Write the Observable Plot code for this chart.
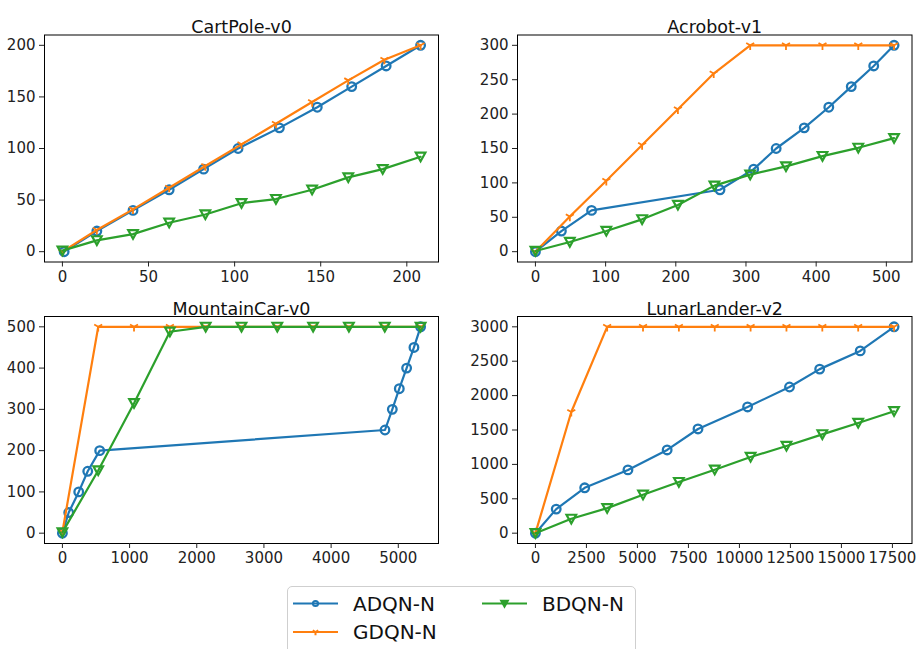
<!DOCTYPE html>
<html><head><meta charset="utf-8">
<script src="https://cdn.jsdelivr.net/npm/d3@7"></script>
<script src="https://cdn.jsdelivr.net/npm/@observablehq/plot@0.6"></script>
<style>
body{margin:0;background:#fff;width:918px;height:649px;overflow:hidden;position:relative;font-family:"DejaVu Sans",sans-serif;}
.panel{position:absolute;}
.panel svg{overflow:visible;display:block;}
#legend{position:absolute;left:287px;top:586px;width:349px;height:90px;border:1px solid #cfcfcf;border-radius:5px;box-sizing:border-box;background:#fff;}
#legendsvg{position:absolute;left:0;top:0;overflow:visible;}
</style></head><body>
<div id="p1" class="panel" style="left:0;top:0"></div>
<div id="p2" class="panel" style="left:459px;top:0"></div>
<div id="p3" class="panel" style="left:0;top:290px"></div>
<div id="p4" class="panel" style="left:459px;top:290px"></div>
<div id="legend"></div>
<svg id="legendsvg" width="918" height="649"></svg>
<script>
// ---------- data ----------
const methods = ["ADQN-N", "GDQN-N", "BDQN-N"];
const colors = ["#1f77b4", "#ff7f0e", "#2ca02c"];

const titles = ["CartPole-v0", "Acrobot-v1", "MountainCar-v0", "LunarLander-v2"];

// CartPole-v0
const cartAdqnX = [1, 20, 41, 62, 82, 102, 126, 148, 168, 188, 208];
const cartAdqnY = [0, 20, 40, 60, 80, 100, 120, 140, 160, 180, 200];
const cartGdqnX = [0, 20, 41, 62, 83, 104, 124, 145, 166, 187, 208];
const cartGdqnY = [0, 21, 41, 62, 83, 104, 124, 145, 166, 186, 200];
const cartBdqnX = [0, 20, 41, 62, 83, 104, 124, 145, 166, 186, 208];
const cartBdqnY = [1, 11, 17, 28, 36, 47, 51, 60, 72, 80, 92];

// Acrobot-v1
const acroAdqnX = [0, 37, 80, 263, 311, 343, 383, 418, 450, 482, 511];
const acroAdqnY = [0, 30, 60, 90, 120, 150, 180, 210, 240, 270, 300];
const acroGdqnX = [0, 49, 101, 152, 203, 254, 306, 357, 409, 460, 511];
const acroGdqnY = [0, 51, 103, 155, 207, 259, 300, 300, 300, 300, 300];
const acroBdqnX = [0, 49, 101, 152, 203, 255, 306, 357, 409, 460, 511];
const acroBdqnY = [1, 14, 30, 47, 68, 96, 112, 124, 139, 151, 165];

// MountainCar-v0
const mcAdqnX = [0, 94, 243, 377, 555, 4802, 4911, 5015, 5124, 5233, 5332];
const mcAdqnY = [0, 50, 100, 150, 200, 250, 300, 350, 400, 450, 500];
const mcGdqnX = [0, 533, 1066, 1600, 2133, 2666, 3199, 3732, 4265, 4799, 5332];
const mcGdqnY = [3, 500, 500, 500, 500, 500, 500, 500, 500, 500, 500];
const mcBdqnX = [0, 533, 1066, 1600, 2133, 2666, 3199, 3732, 4265, 4799, 5332];
const mcBdqnY = [2, 152, 315, 488, 500, 500, 500, 500, 500, 500, 500];

// LunarLander-v2
const llAdqnX = [0, 1019, 2415, 4535, 6457, 7969, 10400, 12455, 13934, 15922, 17581];
const llAdqnY = [0, 350, 660, 920, 1210, 1515, 1835, 2125, 2385, 2650, 3000];
const llGdqnX = [0, 1758, 3516, 5274, 7032, 8790, 10548, 12306, 14064, 15822, 17581];
const llGdqnY = [0, 1762, 3000, 3000, 3000, 3000, 3000, 3000, 3000, 3000, 3000];
const llBdqnX = [0, 1758, 3516, 5274, 7032, 8790, 10548, 12306, 14064, 15822, 17581];
const llBdqnY = [0, 209, 364, 558, 743, 922, 1107, 1267, 1437, 1602, 1772];

// tick values
const cartXTicks = [0, 50, 100, 150, 200];
const cartYTicks = [0, 50, 100, 150, 200];
const acroXTicks = [0, 100, 200, 300, 400, 500];
const acroYTicks = [0, 50, 100, 150, 200, 250, 300];
const mcXTicks = [0, 1000, 2000, 3000, 4000, 5000];
const mcYTicks = [0, 100, 200, 300, 400, 500];
const llXTicks = [0, 2500, 5000, 7500, 10000, 12500, 15000, 17500];
const llYTicks = [0, 500, 1000, 1500, 2000, 2500, 3000];

// ---------- symbols ----------
const triDown = {draw(ctx, size) {
  const r = Math.sqrt(size / Math.PI);
  ctx.moveTo(-r, -r * 0.85); ctx.lineTo(r, -r * 0.85); ctx.lineTo(0, r * 0.95); ctx.closePath();
}};
const triY = {draw(ctx, size) {
  const r = Math.sqrt(size / Math.PI);
  ctx.moveTo(0, 0); ctx.lineTo(0, r);
  ctx.moveTo(0, 0); ctx.lineTo(-0.866 * r, -0.5 * r);
  ctx.moveTo(0, 0); ctx.lineTo(0.866 * r, -0.5 * r);
}};
const markerStyles = [
  {symbol: "circle", r: 4.3, sw: 2.3},
  {symbol: triY, r: 4.6, sw: 1.8},
  {symbol: triDown, r: 4.8, sw: 2.2}
];

function pad(vals) {
  const lo = d3.min(vals), hi = d3.max(vals), p = (hi - lo) * 0.05;
  return [lo - p, hi + p];
}

function makePanel(id, title, xs, ys, xTicks, yTicks, m) {
  const W = 459, H = 290;
  const marks = [];
  xs.forEach((xArr, k) => {
    const data = xArr.map((x, i) => ({x, y: ys[k][i]}));
    marks.push(Plot.line(data, {x: "x", y: "y", stroke: colors[k], strokeWidth: 2.2}));
    const ms = markerStyles[k];
    marks.push(Plot.dot(data, {x: "x", y: "y", stroke: colors[k], fill: "none", r: ms.r, symbol: ms.symbol, strokeWidth: ms.sw}));
  });
  marks.push(Plot.frame({stroke: "#000", strokeWidth: 1}));
  marks.push(Plot.axisX(xTicks, {tickSize: 5, tickPadding: 4, tickFormat: d => String(d), fontSize: 15, label: null}));
  marks.push(Plot.axisY(yTicks, {tickSize: 5, tickPadding: 4, tickFormat: d => String(d), fontSize: 15, label: null}));
  marks.push(Plot.text([title], {text: d => d, frameAnchor: "top", dy: -14, fontSize: 17.5, fill: "#111"}));
  const svg = Plot.plot({
    width: W, height: H,
    marginLeft: m[0], marginRight: m[1], marginTop: m[2], marginBottom: m[3],
    x: {domain: pad(xs.flat()), label: null},
    y: {domain: pad(ys.flat()), label: null},
    style: {fontFamily: "DejaVu Sans, sans-serif", fontSize: "15px", color: "#222", background: "transparent", overflow: "visible"},
    marks
  });
  document.getElementById(id).appendChild(svg);
}

makePanel("p1", titles[0], [cartAdqnX, cartGdqnX, cartBdqnX], [cartAdqnY, cartGdqnY, cartBdqnY], cartXTicks, cartYTicks, [44, 21, 34.5, 28.5]);
makePanel("p2", titles[1], [acroAdqnX, acroGdqnX, acroBdqnX], [acroAdqnY, acroGdqnY, acroBdqnY], acroXTicks, acroYTicks, [58, 6.5, 34.5, 28.5]);
makePanel("p3", titles[2], [mcAdqnX, mcGdqnX, mcBdqnX], [mcAdqnY, mcGdqnY, mcBdqnY], mcXTicks, mcYTicks, [44, 21, 26, 37]);
makePanel("p4", titles[3], [llAdqnX, llGdqnX, llBdqnX], [llAdqnY, llGdqnY, llBdqnY], llXTicks, llYTicks, [58, 6.5, 26, 37]);

// ---------- legend ----------
const lg = d3.select("#legendsvg");
const legendPos = [{x: 293, y: 603.5}, {x: 293, y: 632}, {x: 482, y: 603.5}];
const legendMarkerR = [2.6, 3.2, 3.3];
methods.forEach((name, k) => {
  const p = legendPos[k];
  lg.append("line").attr("x1", p.x).attr("x2", p.x + 45).attr("y1", p.y).attr("y2", p.y)
    .attr("stroke", colors[k]).attr("stroke-width", 2.2);
  const sym = d3.symbol(markerStyles[k].symbol === "circle" ? d3.symbolCircle : markerStyles[k].symbol,
                        Math.PI * legendMarkerR[k] ** 2);
  lg.append("path").attr("d", sym()).attr("transform", `translate(${p.x + 22.5},${p.y})`)
    .attr("stroke", colors[k]).attr("stroke-width", 2)
    .attr("fill", k === 2 ? colors[k] : "none");
  lg.append("text").attr("x", p.x + 60).attr("y", p.y).attr("dy", "0.36em")
    .attr("font-size", 20).attr("font-family", "DejaVu Sans, sans-serif").attr("fill", "#111").text(name);
});
</script>
</body></html>
